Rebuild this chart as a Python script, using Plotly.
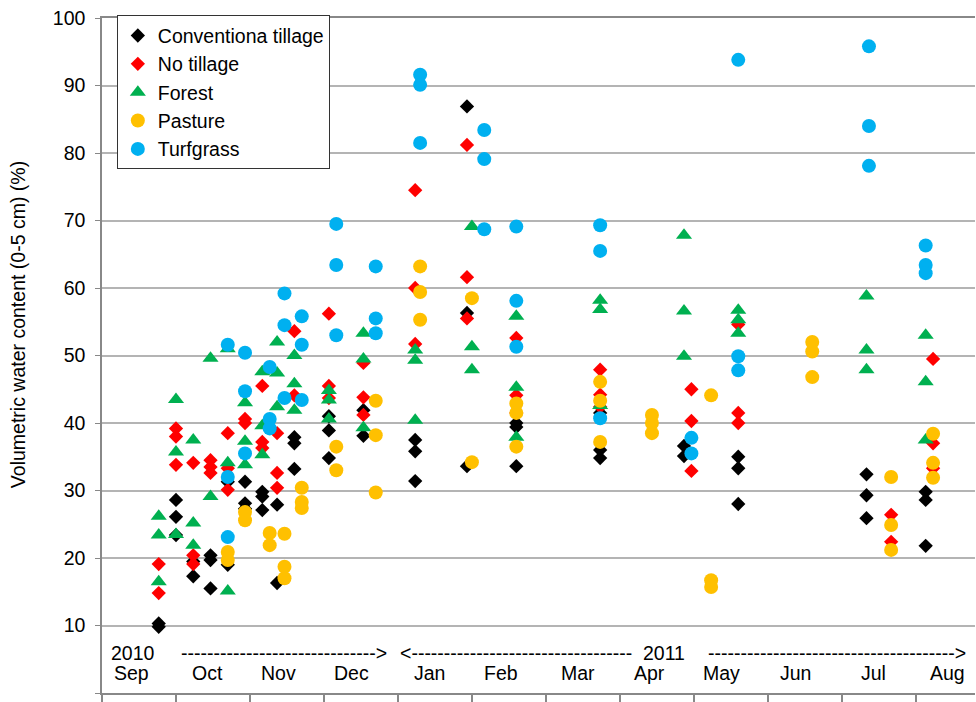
import plotly.graph_objects as go

# x = day of study (days after 1 Sep 2010), y = volumetric water content (%)
conventional = [
    (23, [10.3, 9.8]), (30, [28.6, 26.1, 23.4]), (37, [19.5, 17.3]), (44, [20.4, 19.7, 15.5]),
    (51, [31.3, 19.0]), (58, [31.3, 28.1, 27.3]), (65, [29.8, 29.1, 27.1]), (71, [27.9, 16.3]),
    (78, [37.9, 37.0, 33.2]), (92, [41.0, 38.9, 34.8]), (106, [41.9, 38.1]), (127, [37.5, 35.8, 31.4]),
    (148, [86.9, 56.3, 33.6]), (168, [40.0, 39.4, 33.6]), (202, [41.5, 36.0, 34.8]), (236, [36.6, 35.1]),
    (258, [35.0, 33.3, 28.0]), (310, [32.4, 29.3, 25.9]), (334, [29.8, 28.6, 21.8]),
]
no_tillage = [
    (23, [19.1, 14.8]), (30, [39.2, 38.0, 33.8]), (37, [34.1, 20.4, 19.1]), (44, [34.5, 33.5, 32.6]),
    (51, [38.5, 33.3, 30.1]), (58, [40.6, 40.0]), (65, [45.5, 37.2, 36.3]), (71, [38.5, 32.6, 30.4]),
    (78, [53.6, 44.1]), (92, [56.2, 45.5, 43.7]), (106, [48.9, 43.8, 41.2]), (127, [74.5, 60.0, 51.7]),
    (148, [81.2, 61.6, 55.5]), (168, [52.6, 44.1, 41.5]), (202, [47.9, 44.2, 42.4]), (239, [45.0, 40.3, 32.9]),
    (258, [54.6, 41.5, 40.0]), (320, [26.4, 22.4]), (337, [49.5, 37.0, 33.3]),
]
forest = [
    (23, [26.2, 23.4, 16.5]), (30, [43.5, 35.7, 23.5]), (37, [37.5, 25.2, 21.9]), (44, [49.6, 29.1]),
    (51, [51.0, 34.1, 15.1]), (58, [43.0, 37.3, 33.8]), (65, [47.6, 39.6, 35.3]), (71, [52.0, 47.4, 42.4]),
    (78, [50.0, 45.8, 41.9]), (92, [44.8, 43.4, 40.6]), (106, [53.3, 49.5, 39.3]), (127, [50.8, 49.3, 40.4]),
    (150, [69.1, 51.3, 47.9]), (168, [55.8, 45.3, 37.9]), (202, [58.2, 56.8, 42.6]), (236, [67.8, 56.6, 49.9]),
    (258, [56.7, 55.3, 53.3]), (310, [58.8, 50.8, 47.9]), (334, [53.0, 46.1, 37.5]),
]
pasture = [
    (51, [20.9, 19.7]), (58, [26.8, 25.6]), (68, [23.7, 21.9]), (74, [23.6, 18.7, 17.0]),
    (81, [30.4, 28.3, 27.4]), (95, [36.5, 33.0]), (111, [43.3, 38.2, 29.7]), (129, [63.2, 59.4, 55.3]),
    (150, [58.5, 34.2]), (168, [42.9, 41.5, 36.5]), (202, [46.1, 43.3, 37.2]), (223, [41.2, 40.0, 38.5]),
    (247, [44.1, 16.7, 15.7]), (288, [52.0, 50.6, 46.8]), (320, [32.0, 24.9, 21.2]), (337, [38.4, 34.1, 31.9]),
]
turfgrass = [
    (51, [51.6, 32.0, 23.1]), (58, [50.4, 44.7, 35.5]), (68, [48.3, 40.6, 39.2]), (74, [59.2, 54.5, 43.7]),
    (81, [55.8, 51.6, 43.4]), (95, [69.5, 63.4, 53.0]), (111, [63.2, 55.5, 53.3]), (129, [91.6, 90.1, 81.5]),
    (155, [83.4, 79.1, 68.7]), (168, [69.1, 58.1, 51.3]), (202, [69.3, 65.5, 40.7]), (239, [37.8, 35.5]),
    (258, [93.8, 49.9, 47.8]), (311, [95.8, 84.0, 78.1]), (334, [66.3, 63.4, 62.2]),
]

series_names = ["Conventiona tillage", "No tillage", "Forest", "Pasture", "Turfgrass"]
series_data = [conventional, no_tillage, forest, pasture, turfgrass]
series_symbols = ["diamond", "diamond", "triangle-up", "circle", "circle"]
series_colors = ["#000000", "#FF0000", "#00B050", "#FFC000", "#00B0F0"]
series_sizes = [11, 11, 14, 14, 14]

month_labels = ["Sep", "Oct", "Nov", "Dec", "Jan", "Feb", "Mar", "Apr", "May", "Jun", "Jul", "Aug"]
month_pos = [11.8, 42.6, 71.4, 101, 133, 161.8, 193, 222, 251.4, 281.4, 313, 343]

FONT = "Arial, 'Liberation Sans', sans-serif"
FS = 19.5


def flat(groups):
    xs, ys = [], []
    for d, vals in groups:
        for v in vals:
            xs.append(d)
            ys.append(v)
    return xs, ys


fig = go.Figure()
for name, data, sym, col, size in zip(series_names, series_data, series_symbols, series_colors, series_sizes):
    x, y = flat(data)
    fig.add_trace(go.Scatter(
        x=x, y=y, mode="markers", name=name,
        marker=dict(symbol=sym, color=col, size=size, line=dict(width=0)),
    ))

txtfont = dict(size=FS, color="#000000", family=FONT)
annotations = []
for lab, pos in zip(month_labels, month_pos):
    annotations.append(dict(x=pos, y=2.96, xref="x", yref="y", text=lab, showarrow=False, font=txtfont))
annotations.append(dict(x=12.5, y=5.9, xref="x", yref="y", text="2010", showarrow=False, font=txtfont))
annotations.append(dict(x=31.2, y=5.9, xref="x", yref="y", xanchor="left",
                        text="-" * 30 + "&gt;", showarrow=False, font=txtfont))
annotations.append(dict(x=120.0, y=5.9, xref="x", yref="y", xanchor="left",
                        text="&lt;" + "-" * 34 + "  2011", showarrow=False, font=txtfont))
annotations.append(dict(x=245.0, y=5.9, xref="x", yref="y", xanchor="left",
                        text="-" * 38 + "&gt;", showarrow=False, font=txtfont))
annotations.append(dict(x=0, y=0.545, xref="paper", yref="paper", xshift=-84,
                        xanchor="center", yanchor="middle",
                        text="Volumetric water content (0-5 cm) (%)", textangle=-90,
                        showarrow=False, font=txtfont))

fig.update_layout(
    width=976, height=702,
    margin=dict(l=102, r=1, t=18, b=9),
    paper_bgcolor="white", plot_bgcolor="white",
    font=dict(family=FONT, size=FS, color="#000000"),
    showlegend=True,
    legend=dict(x=0.017, y=1.004, xanchor="left", yanchor="top",
                bgcolor="white", bordercolor="#333333", borderwidth=1,
                font=txtfont, tracegroupgap=0),
    annotations=annotations,
    xaxis=dict(range=[0, 354], tick0=0, dtick=30, showticklabels=False,
               ticks="outside", ticklen=9, tickcolor="#888888", tickwidth=1.5,
               showgrid=False, zeroline=False, showline=True, linecolor="#888888",
               linewidth=1.5, mirror=True),
    yaxis=dict(range=[0, 100], tick0=0, dtick=10, showgrid=True, gridcolor="#b4b4b4",
               gridwidth=1.5, zeroline=False, showline=True, linecolor="#888888",
               linewidth=1.5, ticks="outside", ticklen=5, tickcolor="#888888",
               tickfont=txtfont, ticklabelstandoff=6),
)

fig.write_html("out.html", config={"displayModeBar": False},
               post_script="document.body.style.margin='0px';document.body.style.overflow='hidden';")
